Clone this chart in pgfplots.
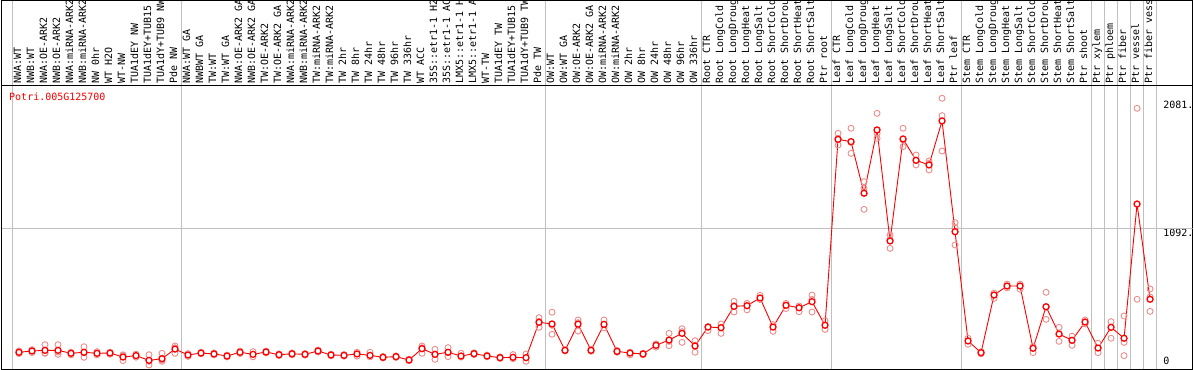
\documentclass[border=0pt]{standalone}
\usepackage{pgfplots}
\pgfplotsset{compat=1.18}
\usepackage{pgfplotstable}
\usepackage{fontspec}
\newfontfamily\monof{DejaVu Sans Mono}
\definecolor{rep}{RGB}{236,140,140}
\definecolor{gridg}{RGB}{192,192,192}

\pgfplotstableread{
x y
0 130
1 140
2 145
3 145
4 122
5 130
6 122
7 124
8 93
9 104
10 67
11 80
12 155
13 109
14 124
15 117
16 101
17 130
18 114
19 132
20 111
21 118
22 114
23 140
24 109
25 106
26 117
27 106
28 91
29 96
30 70
31 158
32 114
33 130
34 101
35 119
36 101
37 88
38 91
39 88
40 363
41 350
42 145
43 349
44 145
45 347
46 137
47 124
48 117
49 184
50 225
51 277
52 179
53 326
54 321
55 487
56 492
57 552
58 326
59 495
60 476
61 523
62 340
63 1785
64 1767
65 1366
66 1858
67 995
68 1788
69 1622
70 1586
71 1928
72 1067
73 218
74 127
75 575
76 645
77 645
78 161
79 484
80 272
81 223
82 365
83 163
84 324
85 239
86 1282
87 542
}\means

\pgfplotstableread{
x y
0 120
0 140
0 128
1 150
1 128
1 140
2 189
2 122
2 125
3 189
3 114
3 132
4 130
4 110
4 126
5 173
5 91
5 126
6 135
6 110
7 130
7 115
8 104
8 65
8 110
9 115
9 92
10 111
10 31
10 60
11 122
11 70
11 60
12 179
12 122
12 165
13 120
13 98
14 130
14 118
15 125
15 110
16 108
16 94
17 140
17 120
18 135
18 95
19 140
19 125
20 118
20 104
21 125
21 110
22 120
22 108
23 148
23 132
24 115
24 102
25 112
25 100
26 130
26 100
27 130
27 95
28 98
28 85
29 102
29 90
30 76
30 64
31 179
31 122
31 165
32 153
32 75
32 114
33 166
33 96
33 128
34 122
34 93
35 126
35 112
36 108
36 95
37 95
37 82
38 112
38 80
39 117
39 60
40 399
40 324
40 370
41 441
41 270
41 340
42 150
42 140
43 381
43 295
43 360
44 152
44 138
45 381
45 320
46 144
46 130
47 110
47 130
48 122
48 110
49 170
49 195
50 277
50 181
50 215
51 313
51 207
51 290
52 220
52 130
52 185
53 298
53 330
54 350
54 277
55 526
55 443
55 492
56 510
56 460
57 573
57 540
58 345
58 293
59 510
59 470
60 445
60 490
61 575
61 443
61 540
62 375
62 308
63 1832
63 1741
63 1790
64 1871
64 1676
64 1760
65 1456
65 1241
65 1404
66 1987
66 1793
66 1830
67 938
67 1042
67 1005
68 1871
68 1728
68 1780
69 1663
69 1586
70 1617
70 1547
70 1600
71 2104
71 1969
71 1694
72 1137
72 964
72 1100
73 239
73 192
74 135
74 118
75 549
75 590
76 660
76 630
77 620
77 660
78 127
78 175
79 596
79 386
79 480
80 324
80 215
81 255
81 184
82 380
82 350
83 200
83 127
84 368
84 239
85 412
85 207
85 104
86 2026
86 542
87 622
87 448
87 560
}\reps

\begin{document}
\begin{tikzpicture}
\useasboundingbox (0,0) rectangle (1194bp,370bp);
\clip (0,0) rectangle (1194bp,370bp);
\begin{axis}[
  at={(1.5bp,1bp)}, anchor=south west,
  scale only axis, width=1191bp, height=368.5bp,
  xmin=-1.346, xmax=90.27, ymin=0, ymax=2864,
  axis line style={black, line width=1bp},
  major tick length=0pt, minor tick length=0pt,
  xtick={0,...,87},
  xticklabels={NWA:WT,NWB:WT,NWA:OE-ARK2,NWB:OE-ARK2,NWA:miRNA-ARK2,NWB:miRNA-ARK2,NW 0hr,WT H2O,WT-NW,TUA1dEY NW,TUA1dEY+TUB15 NW,TUA1dY+TUB9 NW,Pde NW,
    NWA:WT GA,NWBWT GA,TW:WT,TW:WT GA,NWA:OE-ARK2 GA,NWB:OE-ARK2 GA,TW:OE-ARK2,TW:OE-ARK2 GA,NWA:miRNA-ARK2,NWB:miRNA-ARK2,TW:miRNA-ARK2,TW:miRNA-ARK2,TW 2hr,TW 8hr,TW 24hr,TW 48hr,TW 96hr,TW 336hr,WT ACC,35S::etr1-1 H2O,35S::etr1-1 ACC,LMX5::etr1-1 H2O,LMX5::etr1-1 ACC,WT-TW,TUA1dEY TW,TUA1dEY+TUB15 TW,TUA1dY+TUB9 TW,Pde TW,
    OW:WT,OW:WT GA,OW:OE-ARK2,OW:OE-ARK2 GA,OW:miRNA-ARK2,OW:miRNA-ARK2,OW 2hr,OW 8hr,OW 24hr,OW 48hr,OW 96hr,OW 336hr,
    Root CTR,Root LongCold,Root LongDrought,Root LongHeat,Root LongSalt,Root ShortCold,Root ShortDrought,Root ShortHeat,Root ShortSalt,Ptr root,
    Leaf CTR,Leaf LongCold,Leaf LongDrought,Leaf LongHeat,Leaf LongSalt,Leaf ShortCold,Leaf ShortDrought,Leaf ShortHeat,Leaf ShortSalt,Ptr leaf,
    Stem CTR,Stem LongCold,Stem LongDrought,Stem LongHeat,Stem LongSalt,Stem ShortCold,Stem ShortDrought,Stem ShortHeat,Stem ShortSalt,Ptr shoot,
    Ptr xylem,Ptr phloem,Ptr fiber,Ptr vessel,Ptr fiber vessel},
  xticklabel style={yshift=285.5bp, rotate=90, anchor=mid west, inner sep=0pt, font=\fontsize{10bp}{12bp}\selectfont\monof},
  minor xtick={-0.5,12.5,40.5,52.5,62.5,72.5,82.5,83.5,84.5,85.5,86.5,87.5},
  xminorgrids, minor grid style={gridg, line width=1bp},
  ytick={1092,2081}, yticklabels={1092.,2081.},
  yticklabel pos=right,
  yticklabel style={anchor=north west, xshift=-29.5bp, inner sep=0pt, font=\fontsize{10bp}{12bp}\selectfont\monof},
  extra y ticks={0}, extra y tick labels={0},
  extra y tick style={yticklabel style={anchor=south west, yshift=4bp}},
]
\draw[gridg, line width=1bp] (axis cs:-1.346,1092) -- (axis cs:90.27,1092);
\draw[black, line width=1bp] (axis cs:-1.346,2203.5) -- (axis cs:90.27,2203.5);
\addplot[only marks, mark=o, mark size=3bp, color=rep, mark options={line width=0.9bp}] table[x=x,y=y]{\reps};
\addplot[red, line width=0.9bp, mark=*, mark size=3bp, mark options={fill=white, draw=red, line width=1.3bp}] table[x=x,y=y]{\means};
\end{axis}
\node[anchor=base west, text=red, inner sep=0pt, font=\fontsize{10bp}{12bp}\selectfont\monof] at (9bp,269bp) {Potri.005G125700};
\end{tikzpicture}
\end{document}
